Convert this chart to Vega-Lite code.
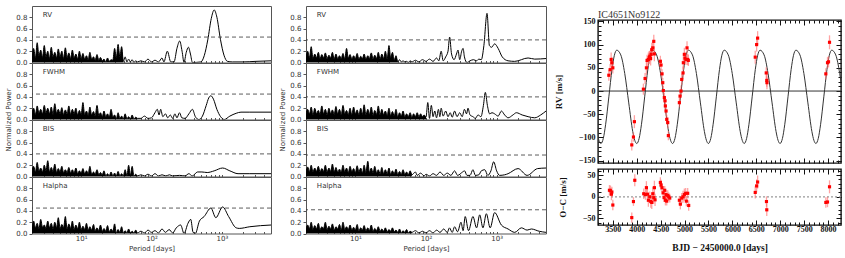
{
"$schema": "https://vega.github.io/schema/vega-lite/v6.json",
"padding": {"left": 4, "top": 5, "right": 0, "bottom": 0},
"background": "white",
"config": {"view": {"stroke": "#555", "strokeWidth": 1}, "axis": {"grid": false, "domain": false}},
"datasets": {
"lrv": [{"p":2,"v":0.1},{"p":2.11,"v":0.25},{"p":2.24,"v":0.08},{"p":2.37,"v":0.35},{"p":2.51,"v":0.12},{"p":2.66,"v":0.22},{"p":2.82,"v":0.09},{"p":2.99,"v":0.3},{"p":3.16,"v":0.1},{"p":3.35,"v":0.2},{"p":3.55,"v":0.07},{"p":3.76,"v":0.27},{"p":3.98,"v":0.1},{"p":4.22,"v":0.18},{"p":4.47,"v":0.08},{"p":4.73,"v":0.24},{"p":5.01,"v":0.1},{"p":5.31,"v":0.2},{"p":5.62,"v":0.07},{"p":5.96,"v":0.26},{"p":6.31,"v":0.09},{"p":6.68,"v":0.17},{"p":7.08,"v":0.07},{"p":7.5,"v":0.22},{"p":7.94,"v":0.08},{"p":8.41,"v":0.15},{"p":8.91,"v":0.06},{"p":9.44,"v":0.2},{"p":10,"v":0.07},{"p":10.6,"v":0.16},{"p":11.2,"v":0.06},{"p":11.9,"v":0.12},{"p":12.6,"v":0.05},{"p":13.3,"v":0.18},{"p":14.1,"v":0.06},{"p":15,"v":0.1},{"p":15.8,"v":0.04},{"p":16.8,"v":0.14},{"p":17.8,"v":0.04},{"p":18.8,"v":0.09},{"p":20,"v":0.03},{"p":21.1,"v":0.06},{"p":22.4,"v":0.01},{"p":23.7,"v":0.08},{"p":25.1,"v":0.02},{"p":26.6,"v":0.05},{"p":28.2,"v":0.04},{"p":29.9,"v":0.25},{"p":31.6,"v":0.08},{"p":33.5,"v":0.32},{"p":35.5,"v":0.1},{"p":37.6,"v":0.28},{"p":39.8,"v":0.02},{"p":42.2,"v":0.1},{"p":44.7,"v":0.01},{"p":47.3,"v":0.06},{"p":50.1,"v":0.01},{"p":53.1,"v":0.05},{"p":56.2,"v":0},{"p":59.6,"v":0.03},{"p":63.1,"v":0.01},{"p":70.8,"v":0.03},{"p":79.4,"v":0.01},{"p":89.1,"v":0.06},{"p":100,"v":0.01},{"p":112,"v":0.04},{"p":126,"v":0.01},{"p":141,"v":0.08},{"p":150,"v":0.01},{"p":168,"v":0.2},{"p":188,"v":0.01},{"p":209,"v":0.01},{"p":230,"v":0.25},{"p":252,"v":0.38},{"p":272,"v":0.2},{"p":290,"v":0},{"p":312,"v":0.18},{"p":335,"v":0.27},{"p":358,"v":0.15},{"p":382,"v":0},{"p":503,"v":0.01},{"p":562,"v":0.12},{"p":631,"v":0.4},{"p":708,"v":0.78},{"p":778,"v":0.93},{"p":851,"v":0.8},{"p":955,"v":0.41},{"p":1072,"v":0.13},{"p":1202,"v":0.02},{"p":1413,"v":0.01},{"p":2000,"v":0.01},{"p":3000,"v":0.02},{"p":5000,"v":0.03}],
"lfw": [{"p":2,"v":0.1},{"p":2.11,"v":0.2},{"p":2.24,"v":0.09},{"p":2.37,"v":0.24},{"p":2.51,"v":0.11},{"p":2.66,"v":0.18},{"p":2.82,"v":0.1},{"p":2.99,"v":0.25},{"p":3.16,"v":0.12},{"p":3.35,"v":0.2},{"p":3.55,"v":0.1},{"p":3.76,"v":0.22},{"p":3.98,"v":0.09},{"p":4.22,"v":0.28},{"p":4.47,"v":0.11},{"p":4.73,"v":0.18},{"p":5.01,"v":0.1},{"p":5.31,"v":0.21},{"p":5.62,"v":0.09},{"p":5.96,"v":0.17},{"p":6.31,"v":0.1},{"p":6.68,"v":0.24},{"p":7.08,"v":0.09},{"p":7.5,"v":0.18},{"p":7.94,"v":0.1},{"p":8.41,"v":0.2},{"p":8.91,"v":0.08},{"p":9.44,"v":0.16},{"p":10,"v":0.09},{"p":10.6,"v":0.3},{"p":11.2,"v":0.08},{"p":11.9,"v":0.15},{"p":12.6,"v":0.07},{"p":13.3,"v":0.22},{"p":14.1,"v":0.08},{"p":15,"v":0.14},{"p":15.8,"v":0.06},{"p":16.8,"v":0.25},{"p":17.8,"v":0.07},{"p":18.8,"v":0.12},{"p":20,"v":0.05},{"p":21.1,"v":0.15},{"p":22.4,"v":0.05},{"p":23.7,"v":0.1},{"p":25.1,"v":0.04},{"p":26.6,"v":0.18},{"p":28.2,"v":0.05},{"p":29.9,"v":0.08},{"p":31.6,"v":0.01},{"p":33.5,"v":0.12},{"p":35.5,"v":0.02},{"p":37.6,"v":0.06},{"p":39.8,"v":0.01},{"p":42.2,"v":0.1},{"p":44.7,"v":0.01},{"p":47.3,"v":0.05},{"p":50.1,"v":0.01},{"p":53.1,"v":0.08},{"p":56.2,"v":0.01},{"p":59.6,"v":0.04},{"p":63.1,"v":0.02},{"p":70.8,"v":0.02},{"p":79.4,"v":0.06},{"p":89.1,"v":0.02},{"p":100,"v":0.03},{"p":112,"v":0.12},{"p":121,"v":0.18},{"p":128,"v":0.08},{"p":135,"v":0.18},{"p":145,"v":0.05},{"p":158,"v":0.1},{"p":170,"v":0.03},{"p":185,"v":0.08},{"p":200,"v":0.02},{"p":215,"v":0.1},{"p":230,"v":0.03},{"p":250,"v":0.12},{"p":270,"v":0.03},{"p":300,"v":0.02},{"p":340,"v":0.1},{"p":382,"v":0.18},{"p":420,"v":0.05},{"p":470,"v":0},{"p":530,"v":0.06},{"p":600,"v":0.25},{"p":650,"v":0.38},{"p":698,"v":0.42},{"p":760,"v":0.36},{"p":850,"v":0.18},{"p":960,"v":0.05},{"p":1081,"v":0},{"p":1300,"v":0.06},{"p":1600,"v":0.11},{"p":1871,"v":0.13},{"p":2500,"v":0.13},{"p":5000,"v":0.13}],
"lbi": [{"p":2,"v":0.09},{"p":2.11,"v":0.18},{"p":2.24,"v":0.08},{"p":2.37,"v":0.25},{"p":2.51,"v":0.1},{"p":2.66,"v":0.15},{"p":2.82,"v":0.08},{"p":2.99,"v":0.2},{"p":3.16,"v":0.1},{"p":3.35,"v":0.28},{"p":3.55,"v":0.08},{"p":3.76,"v":0.16},{"p":3.98,"v":0.09},{"p":4.22,"v":0.22},{"p":4.47,"v":0.07},{"p":4.73,"v":0.14},{"p":5.01,"v":0.08},{"p":5.31,"v":0.18},{"p":5.62,"v":0.07},{"p":5.96,"v":0.12},{"p":6.31,"v":0.07},{"p":6.68,"v":0.16},{"p":7.08,"v":0.06},{"p":7.5,"v":0.12},{"p":7.94,"v":0.06},{"p":8.41,"v":0.15},{"p":8.91,"v":0.05},{"p":9.44,"v":0.1},{"p":10,"v":0.06},{"p":10.6,"v":0.14},{"p":11.2,"v":0.05},{"p":11.9,"v":0.1},{"p":12.6,"v":0.05},{"p":13.3,"v":0.18},{"p":14.1,"v":0.04},{"p":15,"v":0.08},{"p":15.8,"v":0.04},{"p":16.8,"v":0.12},{"p":17.8,"v":0.03},{"p":18.8,"v":0.07},{"p":20,"v":0.03},{"p":21.1,"v":0.1},{"p":22.4,"v":0.01},{"p":23.7,"v":0.05},{"p":25.1,"v":0.01},{"p":26.6,"v":0.08},{"p":28.2,"v":0.01},{"p":29.9,"v":0.06},{"p":31.6,"v":0.01},{"p":33.5,"v":0.09},{"p":35.5,"v":0.01},{"p":37.6,"v":0.05},{"p":39.8,"v":0.01},{"p":42.2,"v":0.12},{"p":44.7,"v":0.01},{"p":47.3,"v":0.2},{"p":50.1,"v":0.02},{"p":53.1,"v":0.18},{"p":56.2,"v":0.01},{"p":59.6,"v":0.04},{"p":63.1,"v":0.01},{"p":70.8,"v":0.03},{"p":79.4,"v":0.01},{"p":89.1,"v":0.04},{"p":100,"v":0.01},{"p":112,"v":0.05},{"p":126,"v":0.01},{"p":141,"v":0.03},{"p":160,"v":0.01},{"p":180,"v":0.03},{"p":200,"v":0.01},{"p":250,"v":0.02},{"p":300,"v":0.01},{"p":340,"v":0.05},{"p":380,"v":0.01},{"p":451,"v":0.08},{"p":520,"v":0.08},{"p":620,"v":0.07},{"p":778,"v":0.1},{"p":1026,"v":0.15},{"p":1300,"v":0.1},{"p":1700,"v":0.05},{"p":2500,"v":0.05},{"p":5000,"v":0.05}],
"lha": [{"p":2,"v":0.09},{"p":2.11,"v":0.22},{"p":2.24,"v":0.1},{"p":2.37,"v":0.18},{"p":2.51,"v":0.08},{"p":2.66,"v":0.25},{"p":2.82,"v":0.11},{"p":2.99,"v":0.15},{"p":3.16,"v":0.09},{"p":3.35,"v":0.22},{"p":3.55,"v":0.1},{"p":3.76,"v":0.18},{"p":3.98,"v":0.08},{"p":4.22,"v":0.2},{"p":4.47,"v":0.1},{"p":4.73,"v":0.28},{"p":5.01,"v":0.09},{"p":5.31,"v":0.16},{"p":5.62,"v":0.1},{"p":5.96,"v":0.3},{"p":6.31,"v":0.08},{"p":6.68,"v":0.17},{"p":7.08,"v":0.09},{"p":7.5,"v":0.22},{"p":7.94,"v":0.07},{"p":8.41,"v":0.15},{"p":8.91,"v":0.08},{"p":9.44,"v":0.2},{"p":10,"v":0.07},{"p":10.6,"v":0.13},{"p":11.2,"v":0.07},{"p":11.9,"v":0.18},{"p":12.6,"v":0.06},{"p":13.3,"v":0.12},{"p":14.1,"v":0.06},{"p":15,"v":0.16},{"p":15.8,"v":0.05},{"p":16.8,"v":0.1},{"p":17.8,"v":0.05},{"p":18.8,"v":0.15},{"p":20,"v":0.04},{"p":21.1,"v":0.09},{"p":22.4,"v":0.04},{"p":23.7,"v":0.14},{"p":25.1,"v":0.03},{"p":26.6,"v":0.08},{"p":28.2,"v":0.04},{"p":29.9,"v":0.17},{"p":31.6,"v":0.01},{"p":33.5,"v":0.07},{"p":35.5,"v":0.02},{"p":37.6,"v":0.12},{"p":39.8,"v":0.01},{"p":42.2,"v":0.05},{"p":44.7,"v":0.01},{"p":47.3,"v":0.08},{"p":50.1,"v":0.01},{"p":53.1,"v":0.04},{"p":56.2,"v":0.01},{"p":59.6,"v":0.06},{"p":63.1,"v":0.01},{"p":70.8,"v":0.04},{"p":79.4,"v":0.01},{"p":89.1,"v":0.06},{"p":100,"v":0.02},{"p":112,"v":0.05},{"p":126,"v":0.01},{"p":141,"v":0.08},{"p":158,"v":0.02},{"p":178,"v":0.07},{"p":200,"v":0.01},{"p":225,"v":0.1},{"p":260,"v":0.15},{"p":290,"v":0},{"p":330,"v":0.18},{"p":361,"v":0.25},{"p":390,"v":0.02},{"p":420,"v":0},{"p":480,"v":0.22},{"p":560,"v":0.3},{"p":698,"v":0.45},{"p":822,"v":0.28},{"p":1026,"v":0.47},{"p":1250,"v":0.3},{"p":1600,"v":0.1},{"p":1771,"v":0.09},{"p":2500,"v":0.12},{"p":5000,"v":0.15}],
"mrv": [{"p":2,"v":0.08},{"p":2.11,"v":0.2},{"p":2.24,"v":0.09},{"p":2.37,"v":0.28},{"p":2.51,"v":0.07},{"p":2.66,"v":0.15},{"p":2.82,"v":0.08},{"p":2.99,"v":0.18},{"p":3.16,"v":0.07},{"p":3.35,"v":0.14},{"p":3.55,"v":0.08},{"p":3.76,"v":0.17},{"p":3.98,"v":0.07},{"p":4.22,"v":0.13},{"p":4.47,"v":0.08},{"p":4.73,"v":0.18},{"p":5.01,"v":0.06},{"p":5.31,"v":0.15},{"p":5.62,"v":0.07},{"p":5.96,"v":0.12},{"p":6.31,"v":0.07},{"p":6.68,"v":0.16},{"p":7.08,"v":0.06},{"p":7.5,"v":0.25},{"p":7.94,"v":0.08},{"p":8.41,"v":0.14},{"p":8.91,"v":0.06},{"p":9.44,"v":0.12},{"p":10,"v":0.07},{"p":10.6,"v":0.16},{"p":11.2,"v":0.06},{"p":11.9,"v":0.11},{"p":12.6,"v":0.07},{"p":13.3,"v":0.15},{"p":14.1,"v":0.06},{"p":15,"v":0.12},{"p":15.8,"v":0.07},{"p":16.8,"v":0.17},{"p":17.8,"v":0.06},{"p":18.8,"v":0.13},{"p":20,"v":0.07},{"p":21.1,"v":0.18},{"p":22.4,"v":0.06},{"p":23.7,"v":0.15},{"p":25.1,"v":0.07},{"p":26.6,"v":0.2},{"p":28.2,"v":0.06},{"p":29.9,"v":0.3},{"p":31.6,"v":0.08},{"p":33.5,"v":0.18},{"p":35.5,"v":0.04},{"p":37.6,"v":0.12},{"p":39.8,"v":0.01},{"p":42.2,"v":0.05},{"p":44.7,"v":0.01},{"p":47.3,"v":0.03},{"p":50.1,"v":0.01},{"p":53.1,"v":0.02},{"p":56.2,"v":0},{"p":59.6,"v":0.03},{"p":63.1,"v":0.01},{"p":70.8,"v":0.04},{"p":79.4,"v":0.01},{"p":89.1,"v":0.05},{"p":100,"v":0.02},{"p":112,"v":0.06},{"p":126,"v":0.02},{"p":141,"v":0.08},{"p":152,"v":0.03},{"p":164,"v":0.2},{"p":175,"v":0.03},{"p":190,"v":0.1},{"p":205,"v":0.2},{"p":216,"v":0.45},{"p":230,"v":0.15},{"p":250,"v":0.05},{"p":270,"v":0.15},{"p":284,"v":0.22},{"p":300,"v":0.05},{"p":320,"v":0.2},{"p":335,"v":0.25},{"p":350,"v":0.1},{"p":380,"v":0},{"p":420,"v":0.03},{"p":470,"v":0.05},{"p":520,"v":0.03},{"p":560,"v":0.06},{"p":607,"v":0.05},{"p":660,"v":0.3},{"p":731,"v":0.87},{"p":790,"v":0.3},{"p":850,"v":0.27},{"p":937,"v":0.33},{"p":1050,"v":0.25},{"p":1200,"v":0.1},{"p":1452,"v":0.03},{"p":1800,"v":0.02},{"p":2790,"v":0.08},{"p":3460,"v":0.06},{"p":5000,"v":0.07}],
"mfw": [{"p":2,"v":0.09},{"p":2.11,"v":0.18},{"p":2.24,"v":0.1},{"p":2.37,"v":0.22},{"p":2.51,"v":0.08},{"p":2.66,"v":0.2},{"p":2.82,"v":0.1},{"p":2.99,"v":0.16},{"p":3.16,"v":0.09},{"p":3.35,"v":0.24},{"p":3.55,"v":0.1},{"p":3.76,"v":0.18},{"p":3.98,"v":0.08},{"p":4.22,"v":0.2},{"p":4.47,"v":0.1},{"p":4.73,"v":0.17},{"p":5.01,"v":0.09},{"p":5.31,"v":0.23},{"p":5.62,"v":0.1},{"p":5.96,"v":0.18},{"p":6.31,"v":0.08},{"p":6.68,"v":0.25},{"p":7.08,"v":0.1},{"p":7.5,"v":0.16},{"p":7.94,"v":0.09},{"p":8.41,"v":0.2},{"p":8.91,"v":0.08},{"p":9.44,"v":0.22},{"p":10,"v":0.1},{"p":10.6,"v":0.17},{"p":11.2,"v":0.08},{"p":11.9,"v":0.2},{"p":12.6,"v":0.09},{"p":13.3,"v":0.26},{"p":14.1,"v":0.08},{"p":15,"v":0.18},{"p":15.8,"v":0.09},{"p":16.8,"v":0.22},{"p":17.8,"v":0.07},{"p":18.8,"v":0.16},{"p":20,"v":0.09},{"p":21.1,"v":0.24},{"p":22.4,"v":0.08},{"p":23.7,"v":0.18},{"p":25.1,"v":0.08},{"p":26.6,"v":0.15},{"p":28.2,"v":0.07},{"p":29.9,"v":0.2},{"p":31.6,"v":0.07},{"p":33.5,"v":0.14},{"p":35.5,"v":0.06},{"p":37.6,"v":0.18},{"p":39.8,"v":0.05},{"p":42.2,"v":0.12},{"p":44.7,"v":0.06},{"p":47.3,"v":0.15},{"p":50.1,"v":0.05},{"p":53.1,"v":0.1},{"p":56.2,"v":0.05},{"p":59.6,"v":0.12},{"p":63.1,"v":0.04},{"p":66.8,"v":0.1},{"p":70.8,"v":0.05},{"p":75,"v":0.12},{"p":79.4,"v":0.05},{"p":84,"v":0.1},{"p":89.1,"v":0.05},{"p":94,"v":0.08},{"p":100,"v":0.04},{"p":106,"v":0.3},{"p":112,"v":0.02},{"p":119,"v":0.25},{"p":126,"v":0.05},{"p":133,"v":0.15},{"p":141,"v":0.03},{"p":150,"v":0.18},{"p":157,"v":0.05},{"p":164,"v":0.2},{"p":175,"v":0.06},{"p":190,"v":0.15},{"p":205,"v":0.05},{"p":220,"v":0.12},{"p":235,"v":0.04},{"p":254,"v":0.15},{"p":275,"v":0.05},{"p":300,"v":0.12},{"p":325,"v":0.05},{"p":350,"v":0.18},{"p":375,"v":0.1},{"p":393,"v":0.2},{"p":420,"v":0.08},{"p":462,"v":0.05},{"p":500,"v":0.02},{"p":545,"v":0.08},{"p":600,"v":0.05},{"p":650,"v":0.25},{"p":692,"v":0.48},{"p":740,"v":0.25},{"p":796,"v":0.1},{"p":860,"v":0.12},{"p":937,"v":0.1},{"p":1050,"v":0.06},{"p":1167,"v":0.15},{"p":1300,"v":0.08},{"p":1452,"v":0.03},{"p":1700,"v":0.08},{"p":1905,"v":0.12},{"p":2300,"v":0.08},{"p":2790,"v":0.05},{"p":3460,"v":0.03},{"p":4200,"v":0.08},{"p":5000,"v":0.15}],
"mbi": [{"p":2,"v":0.08},{"p":2.11,"v":0.17},{"p":2.24,"v":0.09},{"p":2.37,"v":0.2},{"p":2.51,"v":0.08},{"p":2.66,"v":0.15},{"p":2.82,"v":0.09},{"p":2.99,"v":0.18},{"p":3.16,"v":0.08},{"p":3.35,"v":0.14},{"p":3.55,"v":0.09},{"p":3.76,"v":0.2},{"p":3.98,"v":0.08},{"p":4.22,"v":0.15},{"p":4.47,"v":0.09},{"p":4.73,"v":0.22},{"p":5.01,"v":0.08},{"p":5.31,"v":0.16},{"p":5.62,"v":0.08},{"p":5.96,"v":0.13},{"p":6.31,"v":0.08},{"p":6.68,"v":0.2},{"p":7.08,"v":0.08},{"p":7.5,"v":0.15},{"p":7.94,"v":0.07},{"p":8.41,"v":0.18},{"p":8.91,"v":0.08},{"p":9.44,"v":0.14},{"p":10,"v":0.07},{"p":10.6,"v":0.19},{"p":11.2,"v":0.08},{"p":11.9,"v":0.15},{"p":12.6,"v":0.06},{"p":13.3,"v":0.2},{"p":14.1,"v":0.07},{"p":15,"v":0.27},{"p":15.8,"v":0.07},{"p":16.8,"v":0.15},{"p":17.8,"v":0.06},{"p":18.8,"v":0.18},{"p":20,"v":0.06},{"p":21.1,"v":0.12},{"p":22.4,"v":0.05},{"p":23.7,"v":0.16},{"p":25.1,"v":0.05},{"p":26.6,"v":0.12},{"p":28.2,"v":0.05},{"p":29.9,"v":0.15},{"p":31.6,"v":0.04},{"p":33.5,"v":0.1},{"p":35.5,"v":0.05},{"p":37.6,"v":0.13},{"p":39.8,"v":0.04},{"p":42.2,"v":0.09},{"p":44.7,"v":0.04},{"p":47.3,"v":0.12},{"p":50.1,"v":0.04},{"p":53.1,"v":0.08},{"p":56.2,"v":0.03},{"p":59.6,"v":0.1},{"p":63.1,"v":0.03},{"p":70.8,"v":0.08},{"p":75,"v":0.02},{"p":84,"v":0.06},{"p":94,"v":0.01},{"p":100,"v":0.04},{"p":112,"v":0.01},{"p":126,"v":0.05},{"p":141,"v":0.02},{"p":158,"v":0.08},{"p":178,"v":0.02},{"p":200,"v":0.06},{"p":225,"v":0.02},{"p":254,"v":0.1},{"p":280,"v":0.02},{"p":330,"v":0.08},{"p":352,"v":0.1},{"p":380,"v":0.02},{"p":420,"v":0.02},{"p":462,"v":0.12},{"p":500,"v":0.02},{"p":560,"v":0.03},{"p":607,"v":0.1},{"p":680,"v":0.12},{"p":750,"v":0.02},{"p":830,"v":0.1},{"p":908,"v":0.26},{"p":1000,"v":0.1},{"p":1100,"v":0.02},{"p":1300,"v":0.03},{"p":1452,"v":0.05},{"p":2013,"v":0.14},{"p":2700,"v":0.02},{"p":3800,"v":0.14},{"p":5000,"v":0.15}],
"mha": [{"p":2,"v":0.08},{"p":2.11,"v":0.15},{"p":2.24,"v":0.09},{"p":2.37,"v":0.2},{"p":2.51,"v":0.07},{"p":2.66,"v":0.14},{"p":2.82,"v":0.08},{"p":2.99,"v":0.18},{"p":3.16,"v":0.07},{"p":3.35,"v":0.12},{"p":3.55,"v":0.09},{"p":3.76,"v":0.2},{"p":3.98,"v":0.07},{"p":4.22,"v":0.13},{"p":4.47,"v":0.08},{"p":4.73,"v":0.17},{"p":5.01,"v":0.06},{"p":5.31,"v":0.12},{"p":5.62,"v":0.08},{"p":5.96,"v":0.16},{"p":6.31,"v":0.06},{"p":6.68,"v":0.2},{"p":7.08,"v":0.07},{"p":7.5,"v":0.12},{"p":7.94,"v":0.07},{"p":8.41,"v":0.15},{"p":8.91,"v":0.06},{"p":9.44,"v":0.11},{"p":10,"v":0.06},{"p":10.6,"v":0.16},{"p":11.2,"v":0.05},{"p":11.9,"v":0.1},{"p":12.6,"v":0.06},{"p":13.3,"v":0.14},{"p":14.1,"v":0.05},{"p":15,"v":0.1},{"p":15.8,"v":0.05},{"p":16.8,"v":0.15},{"p":17.8,"v":0.04},{"p":18.8,"v":0.09},{"p":20,"v":0.05},{"p":21.1,"v":0.12},{"p":22.4,"v":0.04},{"p":23.7,"v":0.08},{"p":25.1,"v":0.04},{"p":26.6,"v":0.1},{"p":28.2,"v":0.03},{"p":29.9,"v":0.07},{"p":31.6,"v":0.04},{"p":33.5,"v":0.1},{"p":35.5,"v":0.03},{"p":37.6,"v":0.06},{"p":39.8,"v":0.02},{"p":42.2,"v":0.08},{"p":44.7,"v":0.01},{"p":47.3,"v":0.05},{"p":50.1,"v":0.02},{"p":53.1,"v":0.07},{"p":56.2,"v":0.01},{"p":59.6,"v":0.04},{"p":63.1,"v":0.02},{"p":70.8,"v":0.05},{"p":79.4,"v":0.01},{"p":89.1,"v":0.04},{"p":100,"v":0.01},{"p":112,"v":0.05},{"p":126,"v":0.01},{"p":141,"v":0.06},{"p":158,"v":0.02},{"p":178,"v":0.08},{"p":200,"v":0.02},{"p":215,"v":0.1},{"p":235,"v":0.02},{"p":254,"v":0.12},{"p":280,"v":0.03},{"p":313,"v":0.2},{"p":335,"v":0.05},{"p":359,"v":0.3},{"p":400,"v":0.05},{"p":462,"v":0.3},{"p":520,"v":0.1},{"p":576,"v":0.33},{"p":640,"v":0.1},{"p":715,"v":0.35},{"p":810,"v":0.1},{"p":937,"v":0.37},{"p":1167,"v":0.15},{"p":1452,"v":0.08},{"p":1802,"v":0.02},{"p":2243,"v":0.1},{"p":2700,"v":0.06},{"p":3100,"v":0.08},{"p":4000,"v":0.04},{"p":5000,"v":0.02}],
"model": [{"t":3084,"rv":-25.6},{"t":3167,"rv":-86.9},{"t":3209,"rv":-106.1},{"t":3251,"rv":-113},{"t":3301,"rv":-102},{"t":3350,"rv":-71.6},{"t":3417,"rv":-12.5},{"t":3483,"rv":46.6},{"t":3532,"rv":77},{"t":3582,"rv":88},{"t":3666,"rv":77.8},{"t":3749,"rv":37.9},{"t":3833,"rv":-25.6},{"t":3916,"rv":-86.9},{"t":3958,"rv":-106.1},{"t":4000,"rv":-113},{"t":4050,"rv":-102},{"t":4099,"rv":-71.6},{"t":4166,"rv":-12.5},{"t":4232,"rv":46.6},{"t":4281,"rv":77},{"t":4331,"rv":88},{"t":4415,"rv":77.8},{"t":4498,"rv":37.9},{"t":4582,"rv":-25.6},{"t":4665,"rv":-86.9},{"t":4707,"rv":-106.1},{"t":4749,"rv":-113},{"t":4799,"rv":-102},{"t":4848,"rv":-71.6},{"t":4915,"rv":-12.5},{"t":4981,"rv":46.6},{"t":5030,"rv":77},{"t":5080,"rv":88},{"t":5164,"rv":77.8},{"t":5247,"rv":37.9},{"t":5331,"rv":-25.6},{"t":5414,"rv":-86.9},{"t":5456,"rv":-106.1},{"t":5498,"rv":-113},{"t":5548,"rv":-102},{"t":5597,"rv":-71.6},{"t":5664,"rv":-12.5},{"t":5730,"rv":46.6},{"t":5779,"rv":77},{"t":5829,"rv":88},{"t":5913,"rv":77.8},{"t":5996,"rv":37.9},{"t":6080,"rv":-25.6},{"t":6163,"rv":-86.9},{"t":6205,"rv":-106.1},{"t":6247,"rv":-113},{"t":6297,"rv":-102},{"t":6346,"rv":-71.6},{"t":6413,"rv":-12.5},{"t":6479,"rv":46.6},{"t":6528,"rv":77},{"t":6578,"rv":88},{"t":6662,"rv":77.8},{"t":6745,"rv":37.9},{"t":6829,"rv":-25.6},{"t":6912,"rv":-86.9},{"t":6954,"rv":-106.1},{"t":6996,"rv":-113},{"t":7046,"rv":-102},{"t":7095,"rv":-71.6},{"t":7162,"rv":-12.5},{"t":7228,"rv":46.6},{"t":7277,"rv":77},{"t":7327,"rv":88},{"t":7411,"rv":77.8},{"t":7494,"rv":37.9},{"t":7578,"rv":-25.6},{"t":7661,"rv":-86.9},{"t":7703,"rv":-106.1},{"t":7745,"rv":-113},{"t":7795,"rv":-102},{"t":7844,"rv":-71.6},{"t":7911,"rv":-12.5},{"t":7977,"rv":46.6},{"t":8026,"rv":77},{"t":8076,"rv":88},{"t":8160,"rv":77.8},{"t":8243,"rv":37.9},{"t":8327,"rv":-25.6}],
"rv": [{"t":3416,"rv":34,"e":12},{"t":3444,"rv":46,"e":12},{"t":3465,"rv":68,"e":15},{"t":3479,"rv":61,"e":12},{"t":3500,"rv":50,"e":12},{"t":3896,"rv":-116,"e":12},{"t":3931,"rv":-99,"e":10},{"t":3951,"rv":-66,"e":14},{"t":4139,"rv":4,"e":12},{"t":4174,"rv":27,"e":12},{"t":4202,"rv":50,"e":15},{"t":4216,"rv":66,"e":12},{"t":4243,"rv":68,"e":15},{"t":4260,"rv":72,"e":14},{"t":4272,"rv":75,"e":12},{"t":4290,"rv":70,"e":15},{"t":4300,"rv":79,"e":14},{"t":4314,"rv":89,"e":15},{"t":4335,"rv":93,"e":16},{"t":4356,"rv":107,"e":14},{"t":4368,"rv":80,"e":16},{"t":4494,"rv":64,"e":12},{"t":4508,"rv":56,"e":12},{"t":4529,"rv":37,"e":10},{"t":4544,"rv":18,"e":10},{"t":4556,"rv":1,"e":10},{"t":4577,"rv":-14,"e":10},{"t":4592,"rv":-21,"e":10},{"t":4598,"rv":-32,"e":12},{"t":4613,"rv":-43,"e":10},{"t":4627,"rv":-61,"e":10},{"t":4648,"rv":-68,"e":12},{"t":4661,"rv":-96,"e":10},{"t":4891,"rv":-25,"e":10},{"t":4905,"rv":-11,"e":12},{"t":4926,"rv":0,"e":12},{"t":4940,"rv":25,"e":12},{"t":4968,"rv":39,"e":14},{"t":4974,"rv":61,"e":14},{"t":4995,"rv":79,"e":14},{"t":5009,"rv":71,"e":12},{"t":5030,"rv":68,"e":12},{"t":5051,"rv":93,"e":14},{"t":5065,"rv":68,"e":12},{"t":5078,"rv":66,"e":12},{"t":6477,"rv":73,"e":14},{"t":6506,"rv":100,"e":15},{"t":6527,"rv":114,"e":15},{"t":6707,"rv":39,"e":12},{"t":6718,"rv":23,"e":14},{"t":6722,"rv":18,"e":14},{"t":7953,"rv":37,"e":12},{"t":7988,"rv":61,"e":12},{"t":8009,"rv":63,"e":12},{"t":8030,"rv":105,"e":15}],
"oc": [{"t":3429,"oc":15,"e":12},{"t":3450,"oc":14,"e":12},{"t":3471,"oc":6,"e":14},{"t":3480,"oc":11,"e":12},{"t":3500,"oc":-19,"e":12},{"t":3896,"oc":-48,"e":12},{"t":3931,"oc":-11,"e":10},{"t":3959,"oc":38,"e":14},{"t":4146,"oc":7,"e":12},{"t":4181,"oc":5,"e":12},{"t":4202,"oc":21,"e":15},{"t":4223,"oc":6,"e":12},{"t":4243,"oc":-8,"e":15},{"t":4272,"oc":0,"e":12},{"t":4293,"oc":-11,"e":14},{"t":4314,"oc":-13,"e":15},{"t":4335,"oc":7,"e":16},{"t":4356,"oc":-2,"e":14},{"t":4369,"oc":21,"e":16},{"t":4383,"oc":-7,"e":14},{"t":4494,"oc":33,"e":12},{"t":4508,"oc":27,"e":12},{"t":4529,"oc":21,"e":10},{"t":4550,"oc":9,"e":10},{"t":4571,"oc":-2,"e":10},{"t":4585,"oc":15,"e":10},{"t":4599,"oc":-8,"e":12},{"t":4613,"oc":5,"e":10},{"t":4627,"oc":-10,"e":10},{"t":4648,"oc":3,"e":12},{"t":4669,"oc":0,"e":10},{"t":4690,"oc":-3,"e":10},{"t":4891,"oc":-8,"e":10},{"t":4912,"oc":-17,"e":12},{"t":4940,"oc":-3,"e":12},{"t":4968,"oc":0,"e":14},{"t":4995,"oc":5,"e":14},{"t":5023,"oc":8,"e":12},{"t":5037,"oc":-10,"e":12},{"t":5065,"oc":8,"e":12},{"t":5086,"oc":-20,"e":12},{"t":6477,"oc":10,"e":14},{"t":6506,"oc":25,"e":15},{"t":6527,"oc":34,"e":15},{"t":6712,"oc":-11,"e":12},{"t":6718,"oc":-30,"e":14},{"t":7953,"oc":-13,"e":12},{"t":7988,"oc":-12,"e":12},{"t":8030,"oc":23,"e":15}]
},
"resolve": {"scale": {"x": "independent", "y": "independent"}},
"spacing": 6,
"hconcat": [
{"vconcat": [
 {"width": 239, "height": 56.5, "resolve": {"axis": {"x": "independent", "y": "independent"}}, "layer": [
  {"data": {"name": "lrv"}, "transform": [{"filter": "datum.p < 40"}], "mark": {"type": "area", "color": "#000", "interpolate": "monotone", "clip": true},
   "encoding": {"x": {"field": "p", "type": "quantitative", "scale": {"type": "log", "domain": [2, 5000], "nice": false}, "axis": null}, "y": {"field": "v", "type": "quantitative", "scale": {"domain": [0, 1], "nice": false}, "axis": null}}},
  {"data": {"name": "lrv"}, "mark": {"type": "line", "color": "#000", "strokeWidth": 1, "interpolate": "monotone", "clip": true},
   "encoding": {"x": {"field": "p", "type": "quantitative", "scale": {"type": "log", "domain": [2, 5000], "nice": false}, "axis": {"values": [2,3,4,5,6,7,8,9,10,20,30,40,50,60,70,80,90,100,200,300,400,500,600,700,800,900,1000,2000,3000,4000,5000], "labels": false, "title": null, "tickSize": -2, "tickColor": "#555"}},
    "y": {"field": "v", "type": "quantitative", "scale": {"domain": [0, 1], "nice": false}, "axis": {"values": [0,0.2,0.4,0.6,0.8], "format": ".1f", "labelOverlap": false, "title": null, "labelFont": "DejaVu Sans", "labelFontSize": 7, "labelColor": "#333", "tickSize": 3, "tickColor": "#555", "labelPadding": 2}}}},
  {"data": {"values": [{}]}, "mark": {"type": "rule", "color": "#333", "strokeWidth": 0.8, "strokeDash": [4, 3]}, "encoding": {"y": {"datum": 0.45, "axis": null}}},
  {"data": {"values": [{}]}, "mark": {"type": "text", "align": "left", "baseline": "middle", "font": "DejaVu Sans", "fontSize": 7, "color": "#333"}, "encoding": {"x": {"datum": 2.85, "axis": null}, "y": {"datum": 0.84, "axis": null}, "text": {"value": "RV"}}}
 ]},
 {"width": 239, "height": 56.5, "resolve": {"axis": {"x": "independent", "y": "independent"}}, "layer": [
  {"data": {"name": "lfw"}, "transform": [{"filter": "datum.p < 64"}], "mark": {"type": "area", "color": "#000", "interpolate": "monotone", "clip": true},
   "encoding": {"x": {"field": "p", "type": "quantitative", "scale": {"type": "log", "domain": [2, 5000], "nice": false}, "axis": null}, "y": {"field": "v", "type": "quantitative", "scale": {"domain": [0, 1], "nice": false}, "axis": null}}},
  {"data": {"name": "lfw"}, "mark": {"type": "line", "color": "#000", "strokeWidth": 1, "interpolate": "monotone", "clip": true},
   "encoding": {"x": {"field": "p", "type": "quantitative", "scale": {"type": "log", "domain": [2, 5000], "nice": false}, "axis": {"values": [2,3,4,5,6,7,8,9,10,20,30,40,50,60,70,80,90,100,200,300,400,500,600,700,800,900,1000,2000,3000,4000,5000], "labels": false, "title": null, "tickSize": -2, "tickColor": "#555"}},
    "y": {"field": "v", "type": "quantitative", "scale": {"domain": [0, 1], "nice": false}, "axis": {"values": [0,0.2,0.4,0.6,0.8], "format": ".1f", "labelOverlap": false, "title": "Normalized Power", "titleY": 56.5, "titleFont": "DejaVu Sans", "titleFontSize": 7, "titleFontWeight": "normal", "titleColor": "#333", "titlePadding": 4, "labelFont": "DejaVu Sans", "labelFontSize": 7, "labelColor": "#333", "tickSize": 3, "tickColor": "#555", "labelPadding": 2}}}},
  {"data": {"values": [{}]}, "mark": {"type": "rule", "color": "#333", "strokeWidth": 0.8, "strokeDash": [4, 3]}, "encoding": {"y": {"datum": 0.45, "axis": null}}},
  {"data": {"values": [{}]}, "mark": {"type": "text", "align": "left", "baseline": "middle", "font": "DejaVu Sans", "fontSize": 7, "color": "#333"}, "encoding": {"x": {"datum": 2.85, "axis": null}, "y": {"datum": 0.84, "axis": null}, "text": {"value": "FWHM"}}}
 ]},
 {"width": 239, "height": 56.5, "resolve": {"axis": {"x": "independent", "y": "independent"}}, "layer": [
  {"data": {"name": "lbi"}, "transform": [{"filter": "datum.p < 64"}], "mark": {"type": "area", "color": "#000", "interpolate": "monotone", "clip": true},
   "encoding": {"x": {"field": "p", "type": "quantitative", "scale": {"type": "log", "domain": [2, 5000], "nice": false}, "axis": null}, "y": {"field": "v", "type": "quantitative", "scale": {"domain": [0, 1], "nice": false}, "axis": null}}},
  {"data": {"name": "lbi"}, "mark": {"type": "line", "color": "#000", "strokeWidth": 1, "interpolate": "monotone", "clip": true},
   "encoding": {"x": {"field": "p", "type": "quantitative", "scale": {"type": "log", "domain": [2, 5000], "nice": false}, "axis": {"values": [2,3,4,5,6,7,8,9,10,20,30,40,50,60,70,80,90,100,200,300,400,500,600,700,800,900,1000,2000,3000,4000,5000], "labels": false, "title": null, "tickSize": -2, "tickColor": "#555"}},
    "y": {"field": "v", "type": "quantitative", "scale": {"domain": [0, 1], "nice": false}, "axis": {"values": [0,0.2,0.4,0.6,0.8], "format": ".1f", "labelOverlap": false, "title": null, "labelFont": "DejaVu Sans", "labelFontSize": 7, "labelColor": "#333", "tickSize": 3, "tickColor": "#555", "labelPadding": 2}}}},
  {"data": {"values": [{}]}, "mark": {"type": "rule", "color": "#333", "strokeWidth": 0.8, "strokeDash": [4, 3]}, "encoding": {"y": {"datum": 0.4, "axis": null}}},
  {"data": {"values": [{}]}, "mark": {"type": "text", "align": "left", "baseline": "middle", "font": "DejaVu Sans", "fontSize": 7, "color": "#333"}, "encoding": {"x": {"datum": 2.85, "axis": null}, "y": {"datum": 0.84, "axis": null}, "text": {"value": "BIS"}}}
 ]},
 {"width": 239, "height": 56.5, "resolve": {"axis": {"x": "independent", "y": "independent"}}, "layer": [
  {"data": {"name": "lha"}, "transform": [{"filter": "datum.p < 64"}], "mark": {"type": "area", "color": "#000", "interpolate": "monotone", "clip": true},
   "encoding": {"x": {"field": "p", "type": "quantitative", "scale": {"type": "log", "domain": [2, 5000], "nice": false}, "axis": null}, "y": {"field": "v", "type": "quantitative", "scale": {"domain": [0, 1], "nice": false}, "axis": null}}},
  {"data": {"name": "lha"}, "mark": {"type": "line", "color": "#000", "strokeWidth": 1, "interpolate": "monotone", "clip": true},
   "encoding": {"x": {"field": "p", "type": "quantitative", "scale": {"type": "log", "domain": [2, 5000], "nice": false}, "axis": {"values": [2,3,4,5,6,7,8,9,10,20,30,40,50,60,70,80,90,100,200,300,400,500,600,700,800,900,1000,2000,3000,4000,5000], "labelExpr": "datum.value == 10 ? '10¹' : datum.value == 100 ? '10²' : datum.value == 1000 ? '10³' : ''", "labelFlush": false, "labelOverlap": false, "labelFont": "DejaVu Sans", "labelFontSize": 7, "labelColor": "#333", "labelPadding": 3, "title": "Period [days]", "titleFont": "DejaVu Sans", "titleFontSize": 7, "titleFontWeight": "normal", "titleColor": "#333", "titlePadding": 3, "tickSize": -2, "tickColor": "#555"}},
    "y": {"field": "v", "type": "quantitative", "scale": {"domain": [0, 1], "nice": false}, "axis": {"values": [0,0.2,0.4,0.6,0.8], "format": ".1f", "labelOverlap": false, "title": null, "labelFont": "DejaVu Sans", "labelFontSize": 7, "labelColor": "#333", "tickSize": 3, "tickColor": "#555", "labelPadding": 2}}}},
  {"data": {"values": [{}]}, "mark": {"type": "rule", "color": "#333", "strokeWidth": 0.8, "strokeDash": [4, 3]}, "encoding": {"y": {"datum": 0.45, "axis": null}}},
  {"data": {"values": [{}]}, "mark": {"type": "text", "align": "left", "baseline": "middle", "font": "DejaVu Sans", "fontSize": 7, "color": "#333"}, "encoding": {"x": {"datum": 2.85, "axis": null}, "y": {"datum": 0.84, "axis": null}, "text": {"value": "Halpha"}}}
 ]}
], "spacing": 0, "bounds": "flush", "resolve": {"scale": {"x": "independent", "y": "independent"}}},
{"vconcat": [
 {"width": 240, "height": 56.5, "resolve": {"axis": {"x": "independent", "y": "independent"}}, "layer": [
  {"data": {"name": "mrv"}, "transform": [{"filter": "datum.p < 40"}], "mark": {"type": "area", "color": "#000", "interpolate": "monotone", "clip": true},
   "encoding": {"x": {"field": "p", "type": "quantitative", "scale": {"type": "log", "domain": [2, 5000], "nice": false}, "axis": null}, "y": {"field": "v", "type": "quantitative", "scale": {"domain": [0, 1], "nice": false}, "axis": null}}},
  {"data": {"name": "mrv"}, "mark": {"type": "line", "color": "#000", "strokeWidth": 1, "interpolate": "monotone", "clip": true},
   "encoding": {"x": {"field": "p", "type": "quantitative", "scale": {"type": "log", "domain": [2, 5000], "nice": false}, "axis": {"values": [2,3,4,5,6,7,8,9,10,20,30,40,50,60,70,80,90,100,200,300,400,500,600,700,800,900,1000,2000,3000,4000,5000], "labels": false, "title": null, "tickSize": -2, "tickColor": "#555"}},
    "y": {"field": "v", "type": "quantitative", "scale": {"domain": [0, 1], "nice": false}, "axis": {"values": [0,0.2,0.4,0.6,0.8], "format": ".1f", "labelOverlap": false, "title": null, "labelFont": "DejaVu Sans", "labelFontSize": 7, "labelColor": "#333", "tickSize": 3, "tickColor": "#555", "labelPadding": 2}}}},
  {"data": {"values": [{}]}, "mark": {"type": "rule", "color": "#333", "strokeWidth": 0.8, "strokeDash": [4, 3]}, "encoding": {"y": {"datum": 0.4, "axis": null}}},
  {"data": {"values": [{}]}, "mark": {"type": "text", "align": "left", "baseline": "middle", "font": "DejaVu Sans", "fontSize": 7, "color": "#333"}, "encoding": {"x": {"datum": 2.85, "axis": null}, "y": {"datum": 0.84, "axis": null}, "text": {"value": "RV"}}}
 ]},
 {"width": 240, "height": 56.5, "resolve": {"axis": {"x": "independent", "y": "independent"}}, "layer": [
  {"data": {"name": "mfw"}, "transform": [{"filter": "datum.p < 101"}], "mark": {"type": "area", "color": "#000", "interpolate": "monotone", "clip": true},
   "encoding": {"x": {"field": "p", "type": "quantitative", "scale": {"type": "log", "domain": [2, 5000], "nice": false}, "axis": null}, "y": {"field": "v", "type": "quantitative", "scale": {"domain": [0, 1], "nice": false}, "axis": null}}},
  {"data": {"name": "mfw"}, "mark": {"type": "line", "color": "#000", "strokeWidth": 1, "interpolate": "monotone", "clip": true},
   "encoding": {"x": {"field": "p", "type": "quantitative", "scale": {"type": "log", "domain": [2, 5000], "nice": false}, "axis": {"values": [2,3,4,5,6,7,8,9,10,20,30,40,50,60,70,80,90,100,200,300,400,500,600,700,800,900,1000,2000,3000,4000,5000], "labels": false, "title": null, "tickSize": -2, "tickColor": "#555"}},
    "y": {"field": "v", "type": "quantitative", "scale": {"domain": [0, 1], "nice": false}, "axis": {"values": [0,0.2,0.4,0.6,0.8], "format": ".1f", "labelOverlap": false, "title": "Normalized Power", "titleY": 56.5, "titleFont": "DejaVu Sans", "titleFontSize": 7, "titleFontWeight": "normal", "titleColor": "#333", "titlePadding": 4, "labelFont": "DejaVu Sans", "labelFontSize": 7, "labelColor": "#333", "tickSize": 3, "tickColor": "#555", "labelPadding": 2}}}},
  {"data": {"values": [{}]}, "mark": {"type": "rule", "color": "#333", "strokeWidth": 0.8, "strokeDash": [4, 3]}, "encoding": {"y": {"datum": 0.4, "axis": null}}},
  {"data": {"values": [{}]}, "mark": {"type": "text", "align": "left", "baseline": "middle", "font": "DejaVu Sans", "fontSize": 7, "color": "#333"}, "encoding": {"x": {"datum": 2.85, "axis": null}, "y": {"datum": 0.84, "axis": null}, "text": {"value": "FWHM"}}}
 ]},
 {"width": 240, "height": 56.5, "resolve": {"axis": {"x": "independent", "y": "independent"}}, "layer": [
  {"data": {"name": "mbi"}, "transform": [{"filter": "datum.p < 64"}], "mark": {"type": "area", "color": "#000", "interpolate": "monotone", "clip": true},
   "encoding": {"x": {"field": "p", "type": "quantitative", "scale": {"type": "log", "domain": [2, 5000], "nice": false}, "axis": null}, "y": {"field": "v", "type": "quantitative", "scale": {"domain": [0, 1], "nice": false}, "axis": null}}},
  {"data": {"name": "mbi"}, "mark": {"type": "line", "color": "#000", "strokeWidth": 1, "interpolate": "monotone", "clip": true},
   "encoding": {"x": {"field": "p", "type": "quantitative", "scale": {"type": "log", "domain": [2, 5000], "nice": false}, "axis": {"values": [2,3,4,5,6,7,8,9,10,20,30,40,50,60,70,80,90,100,200,300,400,500,600,700,800,900,1000,2000,3000,4000,5000], "labels": false, "title": null, "tickSize": -2, "tickColor": "#555"}},
    "y": {"field": "v", "type": "quantitative", "scale": {"domain": [0, 1], "nice": false}, "axis": {"values": [0,0.2,0.4,0.6,0.8], "format": ".1f", "labelOverlap": false, "title": null, "labelFont": "DejaVu Sans", "labelFontSize": 7, "labelColor": "#333", "tickSize": 3, "tickColor": "#555", "labelPadding": 2}}}},
  {"data": {"values": [{}]}, "mark": {"type": "rule", "color": "#333", "strokeWidth": 0.8, "strokeDash": [4, 3]}, "encoding": {"y": {"datum": 0.38, "axis": null}}},
  {"data": {"values": [{}]}, "mark": {"type": "text", "align": "left", "baseline": "middle", "font": "DejaVu Sans", "fontSize": 7, "color": "#333"}, "encoding": {"x": {"datum": 2.85, "axis": null}, "y": {"datum": 0.84, "axis": null}, "text": {"value": "BIS"}}}
 ]},
 {"width": 240, "height": 56.5, "resolve": {"axis": {"x": "independent", "y": "independent"}}, "layer": [
  {"data": {"name": "mha"}, "transform": [{"filter": "datum.p < 64"}], "mark": {"type": "area", "color": "#000", "interpolate": "monotone", "clip": true},
   "encoding": {"x": {"field": "p", "type": "quantitative", "scale": {"type": "log", "domain": [2, 5000], "nice": false}, "axis": null}, "y": {"field": "v", "type": "quantitative", "scale": {"domain": [0, 1], "nice": false}, "axis": null}}},
  {"data": {"name": "mha"}, "mark": {"type": "line", "color": "#000", "strokeWidth": 1, "interpolate": "monotone", "clip": true},
   "encoding": {"x": {"field": "p", "type": "quantitative", "scale": {"type": "log", "domain": [2, 5000], "nice": false}, "axis": {"values": [2,3,4,5,6,7,8,9,10,20,30,40,50,60,70,80,90,100,200,300,400,500,600,700,800,900,1000,2000,3000,4000,5000], "labelExpr": "datum.value == 10 ? '10¹' : datum.value == 100 ? '10²' : datum.value == 1000 ? '10³' : ''", "labelFlush": false, "labelOverlap": false, "labelFont": "DejaVu Sans", "labelFontSize": 7, "labelColor": "#333", "labelPadding": 3, "title": "Period [days]", "titleFont": "DejaVu Sans", "titleFontSize": 7, "titleFontWeight": "normal", "titleColor": "#333", "titlePadding": 3, "tickSize": -2, "tickColor": "#555"}},
    "y": {"field": "v", "type": "quantitative", "scale": {"domain": [0, 1], "nice": false}, "axis": {"values": [0,0.2,0.4,0.6,0.8], "format": ".1f", "labelOverlap": false, "title": null, "labelFont": "DejaVu Sans", "labelFontSize": 7, "labelColor": "#333", "tickSize": 3, "tickColor": "#555", "labelPadding": 2}}}},
  {"data": {"values": [{}]}, "mark": {"type": "rule", "color": "#333", "strokeWidth": 0.8, "strokeDash": [4, 3]}, "encoding": {"y": {"datum": 0.42, "axis": null}}},
  {"data": {"values": [{}]}, "mark": {"type": "text", "align": "left", "baseline": "middle", "font": "DejaVu Sans", "fontSize": 7, "color": "#333"}, "encoding": {"x": {"datum": 2.85, "axis": null}, "y": {"datum": 0.84, "axis": null}, "text": {"value": "Halpha"}}}
 ]}
], "spacing": 0, "bounds": "flush", "resolve": {"scale": {"x": "independent", "y": "independent"}}},
{"vconcat": [
 {"width": 243, "height": 8, "view": {"stroke": null},
  "data": {"values": [{}]},
  "mark": {"type": "text", "align": "left", "baseline": "alphabetic", "font": "Liberation Serif", "fontSize": 10, "color": "#333"},
  "encoding": {"x": {"datum": 0, "type": "quantitative", "scale": {"domain": [0, 1]}, "axis": null}, "y": {"datum": -0.5, "type": "quantitative", "scale": {"domain": [0, 1]}, "axis": null}, "text": {"value": "IC4651No9122"}}},
 {"width": 243, "height": 143,
  "view": {"stroke": "#111", "strokeWidth": 1.4},
  "resolve": {"axis": {"x": "independent", "y": "independent"}},
  "layer": [
   {"data": {"values": [{}]}, "mark": {"type": "rule", "color": "#333", "strokeWidth": 1}, "encoding": {"y": {"datum": 0, "type": "quantitative", "scale": {"domain": [-155, 153], "nice": false, "zero": false}, "axis": {"orient": "left", "values": [-150,-140,-130,-120,-110,-100,-90,-80,-70,-60,-50,-40,-30,-20,-10,0,10,20,30,40,50,60,70,80,90,100,110,120,130,140,150], "labels": false, "title": null, "tickSize": -3, "tickColor": "#111"}}}},
   {"data": {"name": "model"}, "mark": {"type": "line", "interpolate": "monotone", "color": "#333", "strokeWidth": 1, "clip": true},
    "encoding": {"x": {"field": "t", "type": "quantitative", "scale": {"domain": [3190, 8270], "nice": false, "zero": false}, "axis": {"orient": "bottom", "values": [3500,4000,4500,5000,5500,6000,6500,7000,7500,8000], "labels": false, "title": null, "tickSize": -5, "tickColor": "#111"}},
     "y": {"field": "rv", "type": "quantitative", "scale": {"domain": [-155, 153], "nice": false, "zero": false}, "axis": {"orient": "left", "values": [-150,-100,-50,0,50,100,150], "title": "RV [m/s]", "titleFont": "Liberation Serif", "titleFontSize": 9, "titleFontWeight": "bold", "titleColor": "#111", "titlePadding": 15, "labelFont": "Liberation Serif", "labelFontSize": 8, "labelFontWeight": "bold", "labelColor": "#111", "labelPadding": 8, "tickSize": -5, "tickColor": "#111"}}}},
   {"data": {"name": "rv"}, "mark": {"type": "errorbar", "color": "#f66", "thickness": 1.3, "opacity": 0.6},
    "encoding": {"x": {"field": "t", "type": "quantitative", "scale": {"domain": [3190, 8270], "nice": false, "zero": false}, "axis": {"orient": "top", "values": [3200,3300,3400,3500,3600,3700,3800,3900,4000,4100,4200,4300,4400,4500,4600,4700,4800,4900,5000,5100,5200,5300,5400,5500,5600,5700,5800,5900,6000,6100,6200,6300,6400,6500,6600,6700,6800,6900,7000,7100,7200,7300,7400,7500,7600,7700,7800,7900,8000,8100,8200], "labels": false, "title": null, "tickSize": -3, "tickColor": "#111"}},
     "y": {"field": "rv", "type": "quantitative", "scale": {"domain": [-155, 153], "nice": false, "zero": false}, "axis": {"orient": "right", "values": [-150,-140,-130,-120,-110,-100,-90,-80,-70,-60,-50,-40,-30,-20,-10,0,10,20,30,40,50,60,70,80,90,100,110,120,130,140,150], "labels": false, "title": null, "tickSize": -3, "tickColor": "#111"}},
     "yError": {"field": "e"}}},
   {"data": {"name": "rv"}, "mark": {"type": "square", "color": "#f00", "size": 10, "opacity": 1},
    "encoding": {"x": {"field": "t", "type": "quantitative", "scale": {"domain": [3190, 8270], "nice": false, "zero": false}, "axis": {"orient": "bottom", "values": [3200,3300,3400,3500,3600,3700,3800,3900,4000,4100,4200,4300,4400,4500,4600,4700,4800,4900,5000,5100,5200,5300,5400,5500,5600,5700,5800,5900,6000,6100,6200,6300,6400,6500,6600,6700,6800,6900,7000,7100,7200,7300,7400,7500,7600,7700,7800,7900,8000,8100,8200], "labels": false, "title": null, "tickSize": -3, "tickColor": "#111"}},
     "y": {"field": "rv", "type": "quantitative", "scale": {"domain": [-155, 153], "nice": false, "zero": false}, "axis": {"orient": "right", "values": [-150,-100,-50,0,50,100,150], "labels": false, "title": null, "tickSize": -5, "tickColor": "#111"}}}},
   {"data": {"name": "model"}, "mark": {"type": "line", "opacity": 0},
    "encoding": {"x": {"field": "t", "type": "quantitative", "scale": {"domain": [3190, 8270], "nice": false, "zero": false}, "axis": {"orient": "top", "values": [3500,4000,4500,5000,5500,6000,6500,7000,7500,8000], "labels": false, "title": null, "tickSize": -5, "tickColor": "#111"}},
     "y": {"field": "rv", "type": "quantitative", "scale": {"domain": [-155, 153], "nice": false, "zero": false}, "axis": null}}}
  ]},
 {"width": 243, "height": 56,
  "view": {"stroke": "#111", "strokeWidth": 1.4},
  "resolve": {"axis": {"x": "independent", "y": "independent"}},
  "layer": [
   {"data": {"values": [{}]}, "mark": {"type": "rule", "color": "#999", "strokeWidth": 1.2, "strokeDash": [2, 2]}, "encoding": {"y": {"datum": 0, "type": "quantitative", "scale": {"domain": [-65, 64], "nice": false, "zero": false}, "axis": {"orient": "left", "values": [-60,-50,-40,-30,-20,-10,0,10,20,30,40,50,60], "labels": false, "title": null, "tickSize": -3, "tickColor": "#111"}}}},
   {"data": {"name": "oc"}, "mark": {"type": "errorbar", "color": "#f66", "thickness": 1.3, "opacity": 0.6},
    "encoding": {"x": {"field": "t", "type": "quantitative", "scale": {"domain": [3190, 8270], "nice": false, "zero": false}, "axis": {"orient": "top", "values": [3200,3300,3400,3500,3600,3700,3800,3900,4000,4100,4200,4300,4400,4500,4600,4700,4800,4900,5000,5100,5200,5300,5400,5500,5600,5700,5800,5900,6000,6100,6200,6300,6400,6500,6600,6700,6800,6900,7000,7100,7200,7300,7400,7500,7600,7700,7800,7900,8000,8100,8200], "labels": false, "title": null, "tickSize": -3, "tickColor": "#111"}},
     "y": {"field": "oc", "type": "quantitative", "scale": {"domain": [-65, 64], "nice": false, "zero": false}, "axis": {"orient": "right", "values": [-60,-50,-40,-30,-20,-10,0,10,20,30,40,50,60], "labels": false, "title": null, "tickSize": -3, "tickColor": "#111"}},
     "yError": {"field": "e"}}},
   {"data": {"name": "oc"}, "mark": {"type": "square", "color": "#f00", "size": 10, "opacity": 1},
    "encoding": {"x": {"field": "t", "type": "quantitative", "scale": {"domain": [3190, 8270], "nice": false, "zero": false}, "axis": {"orient": "bottom", "values": [3200,3300,3400,3500,3600,3700,3800,3900,4000,4100,4200,4300,4400,4500,4600,4700,4800,4900,5000,5100,5200,5300,5400,5500,5600,5700,5800,5900,6000,6100,6200,6300,6400,6500,6600,6700,6800,6900,7000,7100,7200,7300,7400,7500,7600,7700,7800,7900,8000,8100,8200], "labels": false, "title": null, "tickSize": -3, "tickColor": "#111"}},
     "y": {"field": "oc", "type": "quantitative", "scale": {"domain": [-65, 64], "nice": false, "zero": false}, "axis": {"orient": "left", "values": [-50,0,50], "title": "O−C [m/s]", "titleFont": "Liberation Serif", "titleFontSize": 9, "titleFontWeight": "bold", "titleColor": "#111", "titlePadding": 15, "labelFont": "Liberation Serif", "labelFontSize": 8, "labelFontWeight": "bold", "labelColor": "#111", "labelPadding": 8, "tickSize": -5, "tickColor": "#111"}}}},
   {"data": {"name": "oc"}, "mark": {"type": "square", "opacity": 0},
    "encoding": {"x": {"field": "t", "type": "quantitative", "scale": {"domain": [3190, 8270], "nice": false, "zero": false}, "axis": {"orient": "bottom", "values": [3500,4000,4500,5000,5500,6000,6500,7000,7500,8000], "format": "d", "labelFlush": false, "title": "BJD − 2450000.0 [days]", "titleFont": "Liberation Serif", "titleFontSize": 9.5, "titleFontWeight": "bold", "titleColor": "#111", "titlePadding": 9, "labelFont": "Liberation Serif", "labelFontSize": 8, "labelFontWeight": "bold", "labelColor": "#111", "labelPadding": 5, "tickSize": -5, "tickColor": "#111"}},
     "y": {"field": "oc", "type": "quantitative", "scale": {"domain": [-65, 64], "nice": false, "zero": false}, "axis": {"orient": "right", "values": [-50,0,50], "labels": false, "title": null, "tickSize": -5, "tickColor": "#111"}}}},
   {"data": {"name": "oc"}, "mark": {"type": "square", "opacity": 0},
    "encoding": {"x": {"field": "t", "type": "quantitative", "scale": {"domain": [3190, 8270], "nice": false, "zero": false}, "axis": {"orient": "top", "values": [3500,4000,4500,5000,5500,6000,6500,7000,7500,8000], "labels": false, "title": null, "tickSize": -5, "tickColor": "#111"}},
     "y": {"field": "oc", "type": "quantitative", "scale": {"domain": [-65, 64], "nice": false, "zero": false}, "axis": null}}}
  ]}
], "spacing": 6, "bounds": "flush", "resolve": {"scale": {"x": "independent", "y": "independent"}}}
]
}
